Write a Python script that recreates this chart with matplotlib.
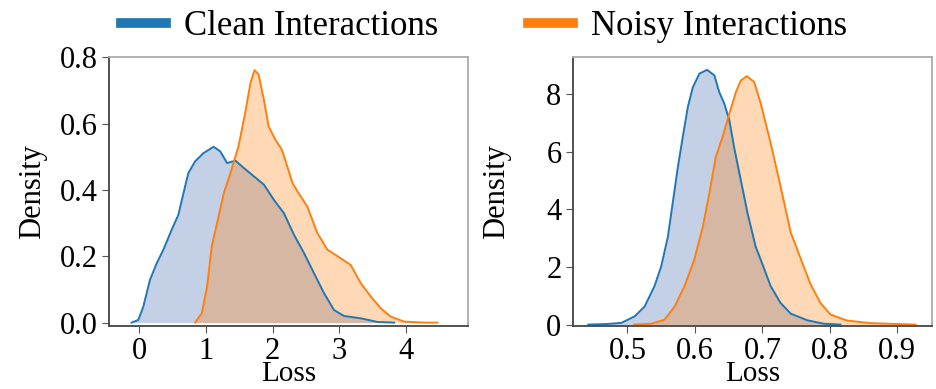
import matplotlib.pyplot as plt

plt.rcParams['font.family'] = ['Liberation Serif', 'DejaVu Serif']

# left panel: loss densities
left_clean_x = [-0.11, -0.01, 0.065, 0.165, 0.266, 0.366, 0.49, 0.59, 0.666, 0.74,
                0.84, 0.967, 1.117, 1.218, 1.319, 1.444, 1.57, 1.72, 1.87, 2.02,
                2.17, 2.32, 2.47, 2.62, 2.77, 2.92, 3.07, 3.32, 3.57, 3.82]
left_clean_y = [0.0, 0.008, 0.048, 0.129, 0.179, 0.22, 0.28, 0.325, 0.39, 0.451,
                0.486, 0.511, 0.53, 0.516, 0.481, 0.488, 0.466, 0.441, 0.416, 0.37,
                0.33, 0.265, 0.21, 0.149, 0.089, 0.038, 0.02, 0.013, 0.002, 0.0]
left_noisy_x = [0.84, 0.94, 1.02, 1.09, 1.17, 1.27, 1.37, 1.49, 1.59, 1.67,
                1.73, 1.79, 1.87, 1.94, 2.04, 2.14, 2.22, 2.30, 2.39, 2.52,
                2.67, 2.82, 3.02, 3.17, 3.32, 3.47, 3.62, 3.77, 3.97, 4.27, 4.47]
left_noisy_y = [0.0, 0.028, 0.109, 0.23, 0.30, 0.39, 0.451, 0.531, 0.632, 0.723,
                0.761, 0.748, 0.672, 0.592, 0.552, 0.521, 0.471, 0.42, 0.39, 0.35,
                0.27, 0.22, 0.194, 0.174, 0.119, 0.079, 0.043, 0.018, 0.003, 0.0, 0.0]

# right panel
right_clean_x = [0.442, 0.47, 0.491, 0.511, 0.5255, 0.540, 0.550, 0.560, 0.567, 0.5748,
                 0.582, 0.5895, 0.597, 0.6067, 0.618, 0.6288, 0.636, 0.6435, 0.651, 0.658,
                 0.668, 0.678, 0.690, 0.6976, 0.7124, 0.727, 0.742, 0.7665, 0.791, 0.8156]
right_clean_y = [0.0, 0.02, 0.06, 0.29, 0.63, 1.33, 2.02, 3.06, 4.21, 5.48,
                 6.52, 7.56, 8.25, 8.72, 8.85, 8.66, 8.08, 7.68, 7.10, 6.17,
                 5.02, 3.87, 2.71, 2.25, 1.33, 0.75, 0.38, 0.15, 0.03, 0.0]
right_noisy_x = [0.51, 0.5354, 0.555, 0.570, 0.5845, 0.599, 0.6117, 0.6214, 0.631, 0.641,
                 0.651, 0.6608, 0.668, 0.677, 0.6878, 0.6976, 0.7124, 0.727, 0.742, 0.7566,
                 0.7714, 0.786, 0.8009, 0.8255, 0.86, 0.927]
right_noisy_y = [0.0, 0.03, 0.17, 0.63, 1.33, 2.25, 3.40, 4.56, 5.83, 6.52,
                 7.33, 8.08, 8.48, 8.63, 8.43, 7.68, 6.29, 4.79, 3.20, 2.30,
                 1.40, 0.75, 0.35, 0.14, 0.05, 0.0]

blue = '#1f77b4'
orange = '#ff7f0e'

fig, axes = plt.subplots(1, 2, figsize=(9.36, 3.89), dpi=100)
fig.subplots_adjust(left=0.116, right=0.996, top=0.853, bottom=0.163, wspace=0.29)

panels = [
    (axes[0], left_clean_x, left_clean_y, left_noisy_x, left_noisy_y),
    (axes[1], right_clean_x, right_clean_y, right_noisy_x, right_noisy_y),
]
for ax, cx, cy, nx, ny in panels:
    ax.fill_between(cx, cy, color='#4c72b0', alpha=0.33, linewidth=0)
    ax.plot(cx, cy, color=blue, lw=1.4, label='Clean Interactions', solid_joinstyle='round')
    ax.fill_between(nx, ny, color=orange, alpha=0.3, linewidth=0)
    ax.plot(nx, ny, color=orange, lw=1.4, label='Noisy Interactions', solid_joinstyle='round')
    ax.set_xlabel('Loss', fontsize=21, labelpad=-3.5)
    ax.set_ylabel('Density', fontsize=22)
    ax.yaxis.set_label_coords(-0.17, 0.5)
    ax.tick_params(labelsize=22, direction='out', length=5, color='#555555', pad=3)
    for s in ['top', 'right']:
        ax.spines[s].set_color('#aaaaaa')
        ax.spines[s].set_linewidth(1.3)
    for s in ['left', 'bottom']:
        ax.spines[s].set_color('#444444')
        ax.spines[s].set_linewidth(1.3)

axes[0].set_xlim(-0.455, 4.93)
axes[0].set_ylim(-0.009, 0.8)
axes[0].set_xticks([0, 1, 2, 3, 4])
axes[0].set_yticks([0.0, 0.2, 0.4, 0.6, 0.8])
axes[0].yaxis.set_major_formatter(plt.FormatStrFormatter('%.1f'))

axes[1].set_xlim(0.4187, 0.9517)
axes[1].set_ylim(-0.035, 9.29)
axes[1].set_xticks([0.5, 0.6, 0.7, 0.8, 0.9])
axes[1].set_yticks([0, 2, 4, 6, 8])

handles, labels = axes[0].get_legend_handles_labels()
leg = fig.legend(handles, labels, loc='upper center', bbox_to_anchor=(0.517, 1.055),
                 ncol=2, fontsize=25, frameon=False, handlelength=1.3,
                 handletextpad=0.5, columnspacing=2.6)
for line in leg.get_lines():
    line.set_linewidth(7)

fig.savefig('out.png', dpi=100)
